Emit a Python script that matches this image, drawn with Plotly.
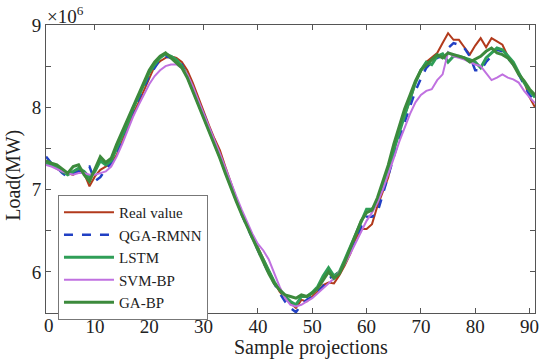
import plotly.graph_objects as go

x_vals = list(range(1, 92))

real_value = [7.35, 7.30, 7.25, 7.22, 7.20, 7.18, 7.24, 7.20, 7.04, 7.16,
              7.24, 7.28, 7.32, 7.42, 7.58, 7.75, 7.92, 8.05, 8.20, 8.35,
              8.50, 8.56, 8.60, 8.62, 8.60, 8.55, 8.45, 8.30, 8.12, 7.95,
              7.78, 7.62, 7.48, 7.28, 7.08, 6.90, 6.72, 6.58, 6.44, 6.30,
              6.15, 6.02, 5.88, 5.76, 5.68, 5.62, 5.56, 5.66, 5.64, 5.70,
              5.76, 5.84, 5.87, 5.86, 5.96, 6.08, 6.22, 6.40, 6.52, 6.52,
              6.58, 6.80, 6.98, 7.15, 7.45, 7.72, 7.90, 8.08, 8.30, 8.45,
              8.55, 8.60, 8.66, 8.78, 8.90, 8.82, 8.82, 8.73, 8.64, 8.75,
              8.84, 8.73, 8.84, 8.80, 8.76, 8.62, 8.52, 8.42, 8.31, 8.12,
              8.00]

qga_rmnn = [7.40, 7.32, 7.27, 7.20, 7.15, 7.20, 7.22, 7.26, 7.28, 7.10,
            7.15, 7.25, 7.32, 7.45, 7.62, 7.80, 7.95, 8.10, 8.25, 8.38,
            8.48, 8.58, 8.62, 8.60, 8.58, 8.52, 8.38, 8.22, 8.06, 7.92,
            7.75, 7.58, 7.42, 7.24, 7.06, 6.88, 6.70, 6.55, 6.40, 6.26,
            6.12, 5.98, 5.85, 5.74, 5.64, 5.56, 5.51, 5.60, 5.66, 5.70,
            5.76, 5.82, 5.92, 5.95, 6.00, 6.12, 6.25, 6.38, 6.55, 6.67,
            6.67, 6.72, 6.95, 7.18, 7.40, 7.62, 7.82, 8.00, 8.20, 8.35,
            8.48, 8.55, 8.60, 8.62, 8.72, 8.78, 8.76, 8.72, 8.62, 8.45,
            8.45, 8.55, 8.62, 8.70, 8.68, 8.60, 8.52, 8.40, 8.28, 8.15,
            8.08]

lstm = [7.32, 7.30, 7.28, 7.22, 7.18, 7.22, 7.26, 7.22, 7.15, 7.22,
        7.35, 7.30, 7.35, 7.50, 7.65, 7.80, 7.98, 8.12, 8.28, 8.42,
        8.52, 8.60, 8.65, 8.62, 8.58, 8.50, 8.38, 8.22, 8.04, 7.88,
        7.72, 7.56, 7.40, 7.22, 7.04, 6.88, 6.72, 6.56, 6.42, 6.28,
        6.14, 6.00, 5.88, 5.78, 5.70, 5.64, 5.60, 5.70, 5.70, 5.75,
        5.82, 5.95, 6.05, 5.95, 6.00, 6.15, 6.30, 6.45, 6.60, 6.76,
        6.76, 6.85, 7.05, 7.25, 7.48, 7.70, 7.90, 8.10, 8.30, 8.45,
        8.55, 8.52, 8.62, 8.65, 8.55, 8.62, 8.62, 8.60, 8.58, 8.55,
        8.48, 8.60, 8.66, 8.72, 8.70, 8.62, 8.55, 8.42, 8.30, 8.20,
        8.12]

svm_bp = [7.30, 7.28, 7.25, 7.22, 7.20, 7.18, 7.20, 7.20, 7.18, 7.18,
          7.20, 7.22, 7.28, 7.40, 7.55, 7.72, 7.88, 8.02, 8.15, 8.28,
          8.38, 8.45, 8.50, 8.52, 8.52, 8.48, 8.40, 8.26, 8.09, 7.92,
          7.76, 7.60, 7.44, 7.26, 7.10, 6.92, 6.76, 6.60, 6.46, 6.34,
          6.26, 6.15, 5.98, 5.82, 5.68, 5.60, 5.58, 5.60, 5.64, 5.68,
          5.74, 5.80, 5.86, 5.92, 6.00, 6.10, 6.22, 6.36, 6.50, 6.62,
          6.72, 6.84, 7.00, 7.18, 7.38, 7.58, 7.76, 7.92, 8.06, 8.15,
          8.20, 8.22, 8.33, 8.40, 8.67, 8.62, 8.60, 8.58, 8.55, 8.52,
          8.50, 8.42, 8.33, 8.36, 8.40, 8.36, 8.34, 8.30, 8.20, 8.12,
          8.05]

ga_bp = [7.35, 7.32, 7.30, 7.25, 7.20, 7.28, 7.30, 7.18, 7.10, 7.25,
         7.40, 7.33, 7.38, 7.55, 7.70, 7.85, 8.00, 8.15, 8.30, 8.45,
         8.55, 8.62, 8.66, 8.60, 8.55, 8.48, 8.36, 8.20, 8.02, 7.86,
         7.70, 7.54, 7.38, 7.20, 7.02, 6.86, 6.70, 6.55, 6.40, 6.26,
         6.12, 5.98, 5.86, 5.78, 5.72, 5.70, 5.68, 5.72, 5.70, 5.74,
         5.80, 5.90, 6.00, 5.92, 5.98, 6.12, 6.28, 6.45, 6.62, 6.72,
         6.75, 6.90, 7.10, 7.30, 7.55, 7.78, 7.98, 8.15, 8.32, 8.45,
         8.52, 8.58, 8.64, 8.60, 8.66, 8.64, 8.62, 8.60, 8.55, 8.58,
         8.62, 8.68, 8.72, 8.66, 8.64, 8.60, 8.52, 8.40, 8.32, 8.22,
         8.15]

x_ticks = [10, 20, 30, 40, 50, 60, 70, 80, 90]
y_ticks = [6, 7, 8, 9]
y_minor_ticks = [5.5, 6.5, 7.5, 8.5]

series = [
    ("Real value", real_value, "#b23a1c", 2, "solid"),
    ("QGA-RMNN", qga_rmnn, "#2140c4", 2.5, "dash"),
    ("LSTM", lstm, "#2f9e57", 3, "solid"),
    ("SVM-BP", svm_bp, "#c071e0", 2, "solid"),
    ("GA-BP", ga_bp, "#3c8a3c", 3, "solid"),
]

fig = go.Figure()
for name, vals, color, w, dash in series:
    fig.add_trace(go.Scatter(x=x_vals, y=vals, mode="lines", name=name,
                             line=dict(color=color, width=w, dash=dash)))

font_family = "Liberation Serif, Times New Roman, Times, serif"
axis_color = "#555555"

fig.update_layout(
    width=550, height=361,
    margin=dict(l=46, r=15, t=25, b=48),
    paper_bgcolor="white", plot_bgcolor="white",
    font=dict(family=font_family, size=20, color="#222222"),
    showlegend=True,
    legend=dict(x=0.0245, y=0.41, xanchor="left", yanchor="top",
                bgcolor="white", bordercolor="#777777", borderwidth=1,
                font=dict(family=font_family, size=15, color="#222222"),
                itemwidth=50, tracegroupgap=0),
    xaxis=dict(range=[1, 91], tickvals=x_ticks, ticks="inside", ticklen=5,
               tickcolor=axis_color, showline=True, linecolor=axis_color,
               linewidth=1, mirror="ticks", showgrid=False, zeroline=False,
               tickfont=dict(size=19), ticklabelstandoff=-4),
    yaxis=dict(range=[5.5, 9], tickvals=y_ticks,
               ticks="inside", ticklen=5, tickcolor=axis_color,
               showline=True, linecolor=axis_color, linewidth=1,
               mirror="ticks", showgrid=False, zeroline=False,
               tickfont=dict(size=19),
               minor=dict(tickvals=y_minor_ticks, ticks="inside", ticklen=5,
                          tickcolor=axis_color, showgrid=False)),
)

fig.add_annotation(text="0", xref="paper", yref="paper", x=0.006, y=-0.042,
                   xanchor="center", yanchor="middle", showarrow=False,
                   font=dict(size=19))
fig.add_annotation(text="×10<sup>6</sup>", xref="paper", yref="paper",
                   x=-0.002, y=1.035, xanchor="left", yanchor="middle",
                   showarrow=False, font=dict(size=19))
fig.add_annotation(text="Load(MW)", xref="paper", yref="paper", x=-0.068,
                   y=0.479, xanchor="center", yanchor="middle",
                   textangle=-90, showarrow=False, font=dict(size=20))
fig.add_annotation(text="Sample projections", xref="paper", yref="paper",
                   x=0.542, y=-0.12, xanchor="center", yanchor="middle",
                   showarrow=False, font=dict(size=20))

fig.write_html("out.html",
               config={"displayModeBar": False},
               post_script="document.body.style.margin='0';"
                           "document.body.style.overflow='hidden';")
